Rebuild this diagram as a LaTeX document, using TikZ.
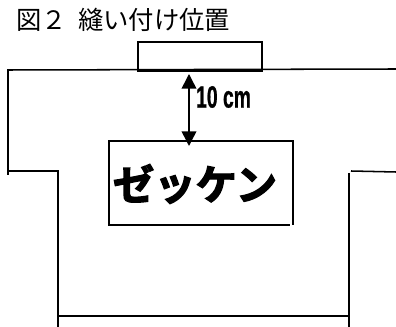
\documentclass[tikz,border=0pt]{standalone}
\usepackage{fontspec}
\usetikzlibrary{positioning, arrows.meta}
\newfontfamily\jpfont{Noto Sans CJK JP}
\newfontfamily\jpbold{Noto Sans CJK JP Bold}[FakeBold=3]
\newfontfamily\lenfont{Liberation Sans Bold}[FakeBold=1]
\tikzset{
    outline/.style={draw, line width=1.15pt},
    dimline/.style={line width=1.15pt, {Triangle[width=11pt, length=11pt]}-{Triangle[width=11pt, length=11pt]}},
}

\begin{document}
\begin{tikzpicture}[x=0.75pt, y=-0.75pt]
        \useasboundingbox (0,0) rectangle (396,327);
        \node[anchor=west, inner sep=0pt, font=\jpfont\fontsize{19pt}{19pt}\selectfont] (title) at (16,20) {図２\hspace{0.45em}縫い付け位置};
        \node[outline, inner sep=0pt, anchor=north west, minimum width=93pt, minimum height=21.75pt] (collar) at (137,41) {};
        \node[inner sep=0pt, font=\jpbold\fontsize{31pt}{31pt}\selectfont] (patch) at (195,184) {ゼッケン};
        \coordinate (arrowtop) at (189,74);
        \coordinate (arrowend) at (189,146);
        \draw[dimline] (arrowtop) -- (arrowend);
        \node[anchor=west, inner sep=0pt, font=\lenfont\fontsize{23pt}{23pt}\selectfont, xscale=0.63] (length) at (196,97) {10 cm};
        % patch edges
        \draw[outline] (294,141) -- (109,141) -- (109,225);
        \draw[outline] (108,225) -- (290,225);
        \draw[outline] (293,141) -- (293,225);
        % garment
        \draw[outline] (8,175) -- (8,70) -- (396,69);
        \draw[outline] (8,171) -- (59,171);
        \draw[outline] (58,171) -- (58,327);
        \draw[outline] (57,316) -- (350,316);
        \draw[outline] (349,173) -- (349,327);
        \draw[outline] (351,171) -- (396,172);
    \end{tikzpicture}
\end{document}
